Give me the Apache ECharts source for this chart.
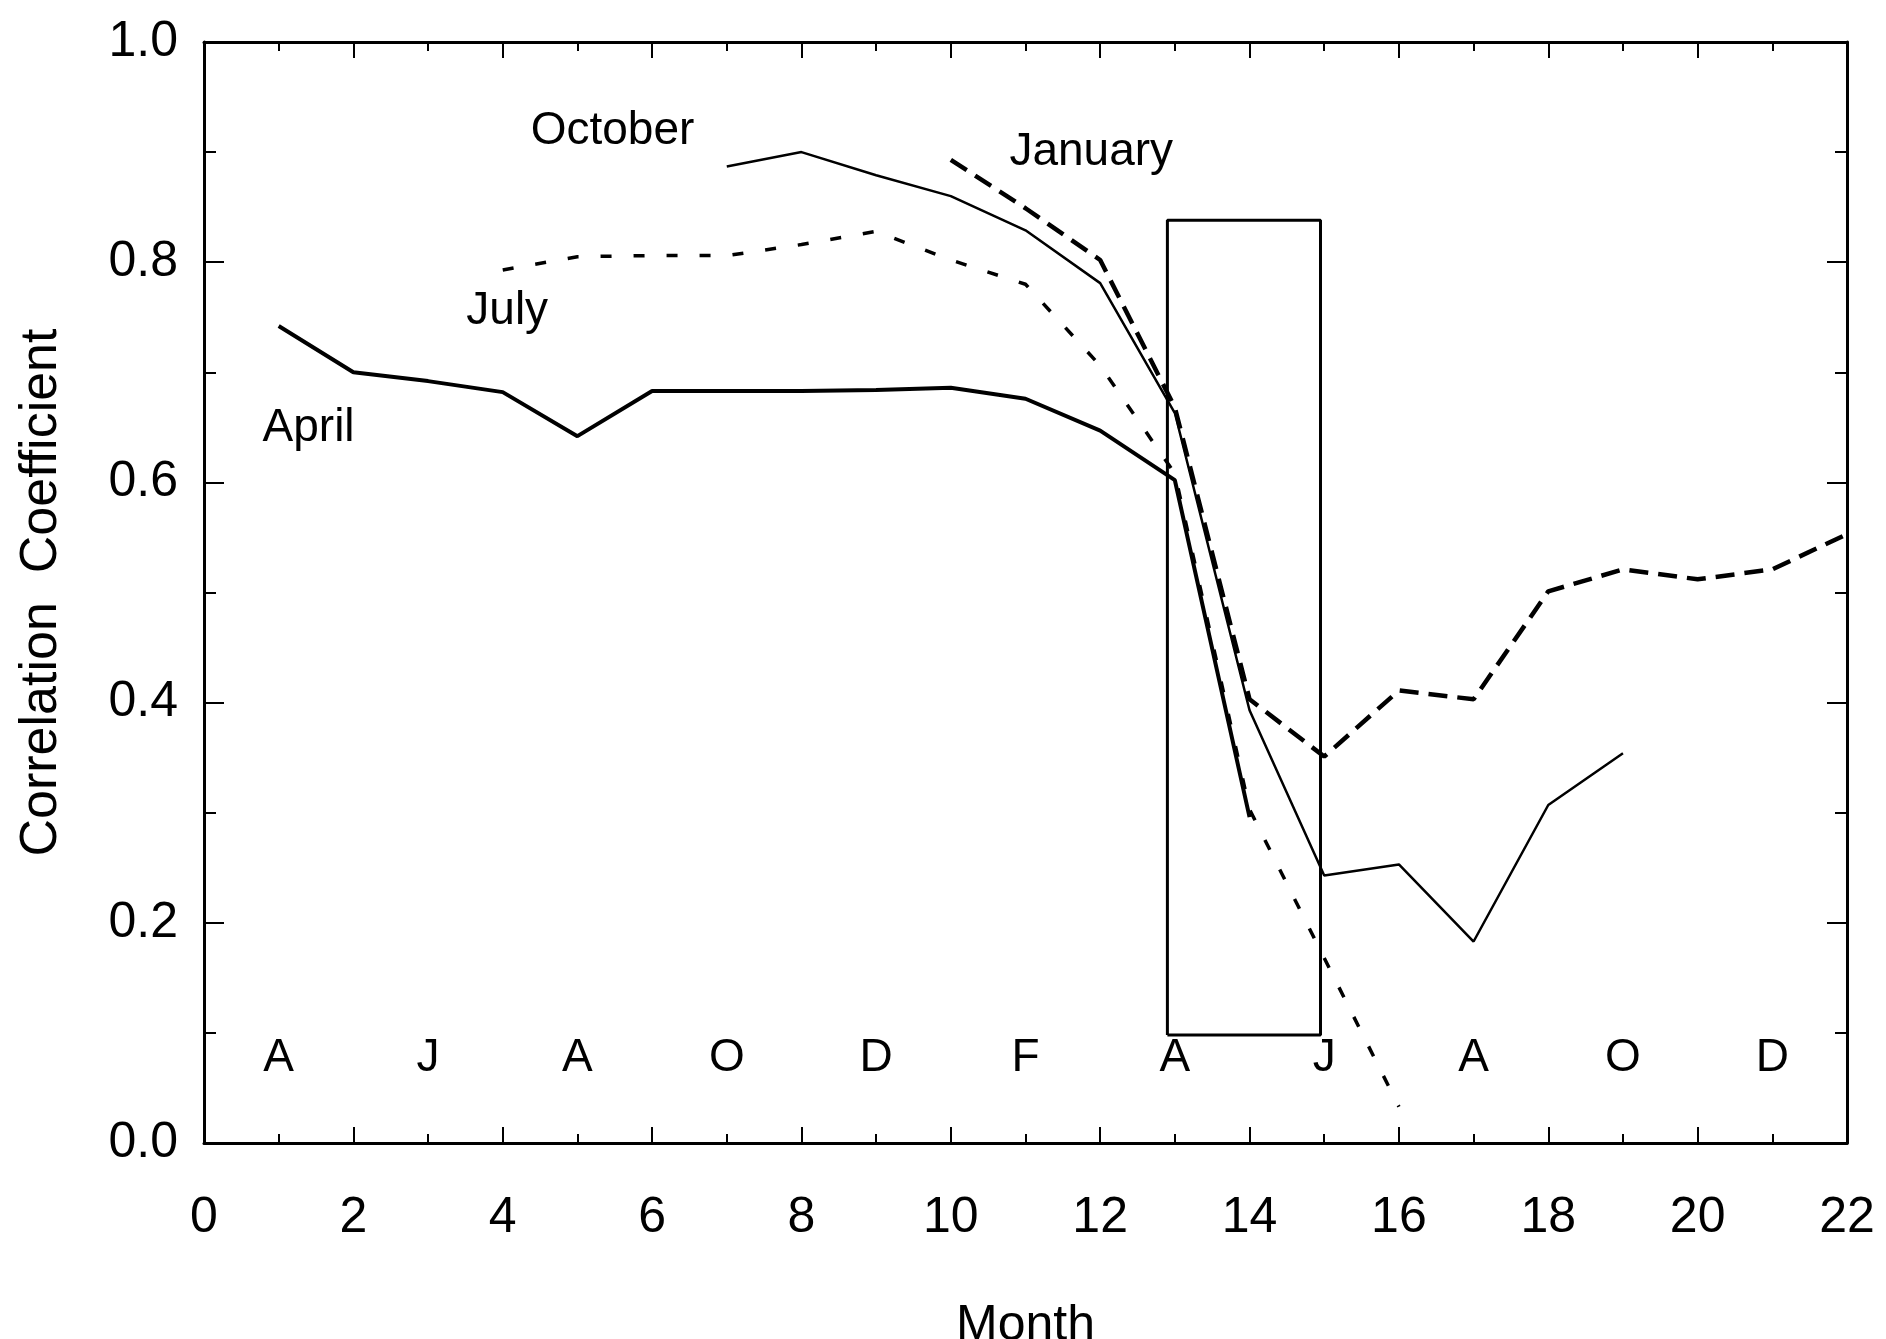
<!DOCTYPE html>
<html>
<head>
<meta charset="utf-8">
<script src="https://cdn.jsdelivr.net/npm/echarts@6/dist/echarts.min.js"></script>
<style>html,body{margin:0;padding:0;background:#fff}#c{width:1886px;height:1339px}</style>
</head>
<body>
<div id="c"></div>
<script>
// ---- data ----
const aprilX = [1, 2, 3, 4, 5, 6, 7, 8, 9, 10, 11, 12, 13, 14];
const aprilY = [0.742, 0.700, 0.692, 0.682, 0.642, 0.683, 0.683, 0.683, 0.684, 0.686, 0.676, 0.647, 0.602, 0.296];
const julyX = [4, 5, 6, 7, 8, 9, 10, 11, 12, 13, 14, 15, 16];
const julyY = [0.793, 0.805, 0.806, 0.806, 0.816, 0.828, 0.802, 0.780, 0.706, 0.608, 0.303, 0.168, 0.033];
const octoberX = [7, 8, 9, 10, 11, 12, 13, 14, 15, 16, 17, 18, 19];
const octoberY = [0.887, 0.900, 0.879, 0.860, 0.829, 0.781, 0.663, 0.393, 0.243, 0.253, 0.183, 0.307, 0.354];
const januaryX = [10, 11, 12, 13, 14, 15, 16, 17, 18, 19, 20, 21, 22];
const januaryY = [0.893, 0.849, 0.802, 0.668, 0.403, 0.351, 0.411, 0.403, 0.501, 0.521, 0.512, 0.521, 0.553];
const boxX = [12.9, 12.9, 14.95, 14.95, 12.9];
const boxY = [0.098, 0.838, 0.838, 0.098, 0.098];
const monthLetters = ['A', 'J', 'A', 'O', 'D', 'F', 'A', 'J', 'A', 'O', 'D'];
const monthLetterX = [1, 3, 5, 7, 9, 11, 13, 15, 17, 19, 21];
const monthLetterY = 0.077;
const seriesNames = ['October', 'January', 'July', 'April'];
const seriesNameX = [5.47, 11.88, 4.06, 1.4];
const seriesNameY = [0.919, 0.900, 0.755, 0.649];
const xTickLabels = ['0', '2', '4', '6', '8', '10', '12', '14', '16', '18', '20', '22'];

const zip = (xs, ys) => xs.map((x, i) => [x, ys[i]]);
const FONT = 'Liberation Sans';
const BLACK = '#000';

const baseX = {
  type: 'value', min: 0, max: 22, interval: 2,
  axisLine: { show: true, onZero: false, lineStyle: { color: BLACK, width: 3 } },
  axisTick: { show: true, inside: true, length: 16, lineStyle: { color: BLACK, width: 2 } },
  minorTick: { show: true, splitNumber: 2, length: 9, lineStyle: { color: BLACK, width: 2 } },
  splitLine: { show: false }, minorSplitLine: { show: false }
};
const baseY = {
  type: 'value', min: 0, max: 1, interval: 0.2,
  axisLine: { show: true, onZero: false, lineStyle: { color: BLACK, width: 3 } },
  axisTick: { show: true, inside: true, length: 20, lineStyle: { color: BLACK, width: 2 } },
  minorTick: { show: true, splitNumber: 2, length: 12, lineStyle: { color: BLACK, width: 2 } },
  splitLine: { show: false }, minorSplitLine: { show: false }
};

const textLabel = {
  show: true, position: 'inside', formatter: p => p.name,
  fontFamily: FONT, fontSize: 46, color: BLACK, opacity: 1, textBorderWidth: 0
};

const option = {
  backgroundColor: '#fff',
  animation: false,
  grid: { left: 204, right: 39, top: 42, bottom: 196, containLabel: false, outerBoundsMode: 'none' },
  xAxis: [
    Object.assign({}, baseX, {
      position: 'bottom',
      name: 'Month', nameLocation: 'middle', nameGap: 158,
      nameTextStyle: { fontFamily: FONT, fontSize: 50, color: BLACK },
      axisLabel: { fontFamily: FONT, fontSize: 50, color: BLACK, margin: 50,
        formatter: v => xTickLabels[Math.round(v / 2)] }
    }),
    Object.assign({}, baseX, { position: 'top', axisLabel: { show: false } })
  ],
  yAxis: [
    Object.assign({}, baseY, {
      position: 'left',
      name: 'Correlation  Coefficient', nameLocation: 'middle', nameGap: 136, nameRotate: 90,
      nameTextStyle: { fontFamily: FONT, fontSize: 52, color: BLACK },
      axisLabel: { fontFamily: FONT, fontSize: 50, color: BLACK, margin: 26,
        formatter: v => v.toFixed(1) }
    }),
    Object.assign({}, baseY, { position: 'right', axisLabel: { show: false } })
  ],
  series: [
    { name: 'April', type: 'line', data: zip(aprilX, aprilY), symbol: 'none',
      lineStyle: { color: BLACK, width: 4, type: 'solid' } },
    { name: 'July', type: 'line', data: zip(julyX, julyY), symbol: 'none',
      lineStyle: { color: BLACK, width: 3.5, type: [11, 22] } },
    { name: 'October', type: 'line', data: zip(octoberX, octoberY), symbol: 'none',
      lineStyle: { color: BLACK, width: 2.5, type: 'solid' } },
    { name: 'January', type: 'line', data: zip(januaryX, januaryY), symbol: 'none',
      lineStyle: { color: BLACK, width: 4.5, type: [19, 10] } },
    { name: 'box', type: 'line', data: zip(boxX, boxY), symbol: 'none',
      lineStyle: { color: BLACK, width: 3 } },
    { name: 'months', type: 'scatter', symbolSize: 0, itemStyle: { opacity: 1 },
      data: monthLetters.map((m, i) => ({ name: m, value: [monthLetterX[i], monthLetterY] })),
      label: textLabel },
    { name: 'labels', type: 'scatter', symbolSize: 0, itemStyle: { opacity: 1 },
      data: seriesNames.map((m, i) => ({ name: m, value: [seriesNameX[i], seriesNameY[i]] })),
      label: textLabel }
  ]
};
echarts.init(document.getElementById('c'), null, { renderer: 'canvas' }).setOption(option);
</script>
</body>
</html>
